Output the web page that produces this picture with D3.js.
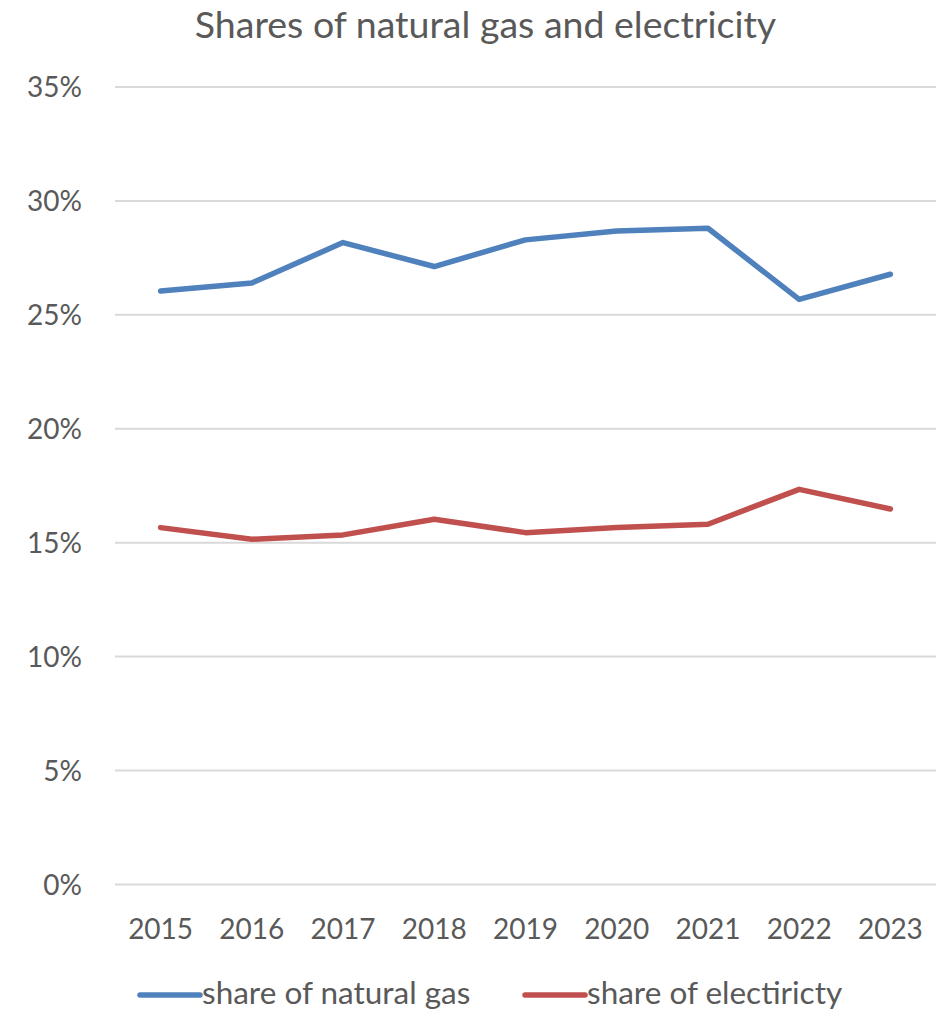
<!DOCTYPE html>
<html>
<head>
<meta charset="utf-8">
<script src="https://cdn.jsdelivr.net/npm/d3@7"></script>
<style>
  html, body { margin: 0; padding: 0; background: #fff; }
  svg { display: block; }
  text { font-family: Lato, "Open Sans", sans-serif; fill: #595959; }
</style>
</head>
<body>
<script>
const years = ["2015","2016","2017","2018","2019","2020","2021","2022","2023"];
const gasShare = [0.2605, 0.2640, 0.2817, 0.2712, 0.2829, 0.2868, 0.2880, 0.2568, 0.2678];
const elecShare = [0.1566, 0.1515, 0.1534, 0.1603, 0.1544, 0.1567, 0.1581, 0.1734, 0.1648];
const yTicks = [0, 0.05, 0.10, 0.15, 0.20, 0.25, 0.30, 0.35];
const seriesNames = ["share of natural gas", "share of electiricty"];
const seriesColors = ["#4f81bd", "#c0504d"];
const titleText = "Shares of natural gas and electricity";

const W = 938, H = 1009;
const svg = d3.select("body").append("svg").attr("width", W).attr("height", H);

const x = d3.scaleBand().domain(years).range([115, 936]).padding(0);
const y = d3.scaleLinear().domain([0, 0.35]).range([884.4, 87]);

// gridlines
svg.append("g").selectAll("line").data(yTicks).join("line")
  .attr("x1", 115).attr("x2", 936)
  .attr("y1", d => y(d)).attr("y2", d => y(d))
  .attr("stroke", "#d9d9d9").attr("stroke-width", 2);

// y axis
const yAxis = d3.axisLeft(y).tickValues(yTicks).tickFormat(d3.format(".0%")).tickSize(0).tickPadding(0);
const gy = svg.append("g").attr("transform", "translate(82,0)").call(yAxis);
gy.select(".domain").remove();
gy.selectAll("text").attr("font-size", 28).attr("font-family", "Lato").attr("fill", "#595959").attr("dy", "0.35em");

// x axis
const xAxis = d3.axisBottom(x).tickSize(0).tickPadding(0);
const gx = svg.append("g").attr("transform", "translate(0,939)").call(xAxis);
gx.select(".domain").remove();
gx.selectAll("text").attr("font-size", 28).attr("font-family", "Lato").attr("fill", "#595959").attr("dy", 0);

// lines
const line = d3.line().x((d, i) => x(years[i]) + x.bandwidth() / 2).y(d => y(d));
[gasShare, elecShare].forEach((s, k) => {
  svg.append("path").datum(s)
    .attr("d", line)
    .attr("fill", "none")
    .attr("stroke", seriesColors[k])
    .attr("stroke-width", 5.5)
    .attr("stroke-linejoin", "round")
    .attr("stroke-linecap", "round");
});

// title
svg.append("text").attr("x", 485.5).attr("y", 38)
  .attr("text-anchor", "middle").attr("font-size", 37.5)
  .text(titleText);

// legend
const legX = [140, 525];
seriesNames.forEach((n, k) => {
  const g = svg.append("g");
  g.append("line").attr("x1", legX[k]).attr("x2", legX[k] + 60)
    .attr("y1", 995).attr("y2", 995)
    .attr("stroke", seriesColors[k]).attr("stroke-width", 5.5).attr("stroke-linecap", "round");
  g.append("text").attr("x", legX[k] + 62).attr("y", 1004)
    .attr("font-size", 31.5).text(n);
});
</script>
</body>
</html>
